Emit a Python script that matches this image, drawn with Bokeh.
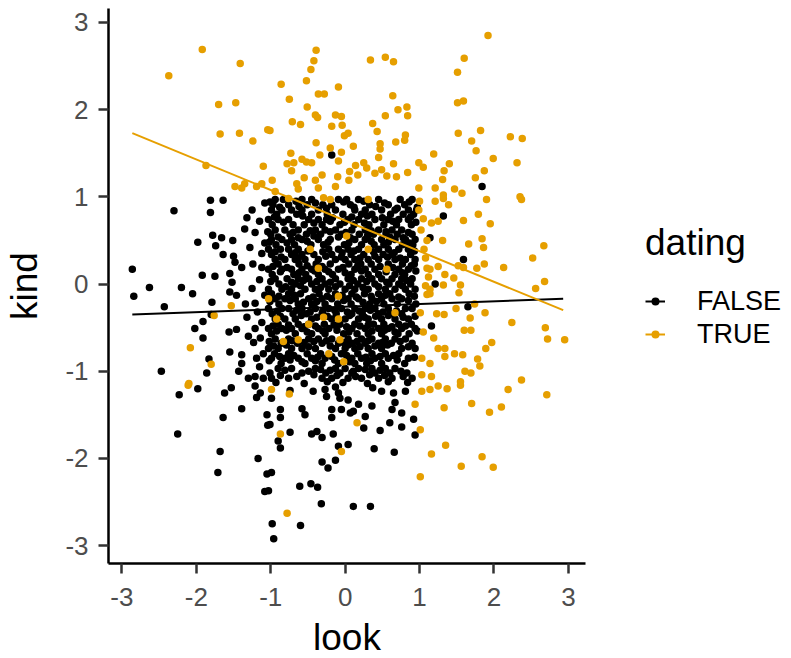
from bokeh.plotting import figure
from bokeh.models import ColumnDataSource, Legend, LegendItem, FixedTicker, Range1d
from bokeh.embed import file_html
from bokeh.resources import INLINE

# ---------------- data ----------------
true_pts = [
    (-1.92,2.69),(-1.41,2.53),(-2.37,2.39),(-1.70,2.06),(-1.47,2.08),(-1.68,1.72),(-1.42,1.73),(-1.24,1.64),
    (-1.04,1.77),(-1.87,1.36),(-1.10,1.35),(-1.35,1.15),(-1.48,1.12),(-1.39,1.10),(-1.19,1.12),(-1.12,1.15),
    (-0.39,2.68),(-0.42,2.56),(-0.46,2.46),(-0.52,2.33),(-0.86,2.29),(-0.09,2.26),(-0.36,2.18),(-0.28,2.18),
    (-0.75,2.12),(0.34,2.57),(0.54,2.60),(0.65,2.55),(0.64,2.16),(0.71,2.00),(0.83,2.03),(0.84,1.93),
    (0.54,1.93),(-0.51,2.03),(-0.40,1.94),(-0.37,1.91),(-0.13,1.94),(-0.05,1.92),(-0.71,1.86),(-0.60,1.83),
    (-0.18,1.81),(-0.04,1.82),(0.37,1.84),(0.43,1.75),(0.04,1.73),(-0.01,1.70),(-1.01,1.76),(-0.39,1.62),
    (0.11,1.58),(0.47,1.61),(0.47,1.55),(0.68,1.63),(0.80,1.65),(0.81,1.71),(-0.73,1.50),(-0.20,1.56),
    (-0.05,1.51),(-0.34,1.48),(0.45,1.45),(-0.78,1.38),(-0.69,1.39),(-0.58,1.43),(-0.52,1.40),(-0.45,1.39),
    (-0.09,1.41),(0.14,1.36),(0.25,1.39),(0.29,1.33),(0.65,1.38),(-0.72,1.30),(0.06,1.29),(0.17,1.25),
    (0.40,1.27),(0.49,1.31),(0.56,1.24),(0.69,1.23),(0.84,1.28),(0.99,1.39),(1.05,1.34),(-0.98,1.19),
    (-0.65,1.15),(-0.55,1.22),(-0.40,1.19),(-0.31,1.25),(-0.10,1.23),(0.05,1.19),(-0.63,1.09),(-0.36,1.10),
    (-0.13,1.12),(0.99,1.10),(-0.94,1.06),
    (1.92,2.85),(1.60,2.59),(1.51,2.43),(1.51,2.08),(1.59,2.10),(1.52,1.73),(1.82,1.76),(1.70,1.64),
    (1.76,1.53),(2.22,1.69),(2.38,1.67),(1.19,1.49),(1.99,1.44),(2.31,1.39),(1.40,1.38),(1.33,1.30),
    (1.87,1.30),(1.31,1.20),(1.75,1.22),(1.21,1.10),(1.47,1.09),(1.57,1.04),(1.32,1.02),(2.35,1.00),
    (1.90,0.97),(2.37,0.97),(1.32,0.98),(1.21,0.95),(1.39,0.91),(1.79,0.80),(1.59,0.73),(1.95,0.69),
    (1.25,0.72),(1.16,0.70),(1.66,0.46),(1.84,0.52),(1.86,0.42),(1.31,0.50),(2.67,0.44),(2.52,0.30),
    (2.13,0.19),(1.87,0.23),(1.77,0.18),(1.52,0.21),(1.59,0.19),(1.25,0.20),(1.34,0.11),(1.46,0.07),
    (1.14,0.17),(1.14,-0.06),(1.14,-0.11),(1.32,-0.01),(1.55,-0.01),(1.53,-0.10),(2.68,0.03),(2.56,-0.05),
    (1.74,-0.23),(1.49,-0.28),(1.23,-0.34),(1.33,-0.35),(1.88,-0.33),(1.68,-0.39),(2.24,-0.44),(1.60,-0.53),
    (1.69,-0.53),(2.69,-0.50),(2.72,-0.63),(2.95,-0.64),(1.97,-0.67),(1.89,-0.74),(1.19,-0.62),(1.25,-0.74),
    (1.34,-0.74),(1.34,-0.83),(1.47,-0.80),(1.58,-0.81),(1.78,-0.86),(1.81,-0.94),(1.61,-1.00),(1.69,-1.02),
    (1.14,-0.91),(1.16,-1.06),(2.37,-1.10),(1.55,-1.12),
    (1.14,-1.21),(1.25,-1.17),(1.37,-1.20),(1.55,-1.16),(2.19,-1.21),(2.71,-1.27),(1.33,-1.42),(1.70,-1.37),
    (1.94,-1.47),(2.10,-1.41),(1.35,-1.85),(1.16,-1.95),(1.56,-2.09),(1.84,-1.98),(1.99,-2.10),
    (-0.99,-1.21),(-0.75,-1.26),(-0.87,-1.72),(0.16,-1.59),(-0.05,-1.92),(-0.78,-2.63),(0.94,-1.38),(1.01,-1.67),
    (1.01,-2.21),(1.03,-1.23),(-2.11,-1.16),
    (-1.53,-0.25),(-1.76,-0.36),(-2.08,-0.73),(-1.80,-0.92),(-2.10,-1.14),
    (-0.76,0.98),(-0.29,0.99),(-0.20,0.97),(0.31,0.97),(0.02,0.55),(-0.47,0.40),(0.31,0.40),(-0.36,0.18),
    (0.56,0.17),(-0.09,-0.14),(0.67,-0.33),(1.01,-0.33),(1.05,-0.55),(-0.92,-0.40),(-0.49,-0.46),(-0.29,-0.38),
    (-0.09,-0.40),(-0.83,-0.66),(-0.63,-0.64),(-0.07,-0.64),(-0.22,-0.80),(-0.02,-0.89),(1.03,-0.85),(1.03,-1.04),
    (-1.03,-0.17),(1.08,0.30),(1.10,0.18),(1.12,0.08),(1.08,-0.02),(1.10,-0.12),(1.06,0.40),(1.10,0.50),
    (0.99,0.85),(1.05,0.75),(1.02,0.62),(1.00,0.95),
]

false_outer = [
    (-0.18,1.48),(1.84,1.12),(1.59,0.28),(1.21,0.00),(1.65,-0.26),(1.16,-0.48),(1.14,0.53),(1.32,0.78),
    (-0.74,-1.22),(-0.99,-1.31),(-0.87,-1.44),(-0.87,-1.53),(-1.01,-1.61),(-0.74,-1.70),(-0.90,-1.80),(-0.87,-1.88),
    (-0.58,-1.43),(-0.54,-1.50),(-0.43,-1.23),(-0.27,-1.21),(-0.25,-1.29),(-0.09,-1.25),(-0.07,-1.31),(0.04,-1.33),
    (-0.13,-1.18),(-0.18,-1.44),(-0.18,-1.53),(-0.05,-1.44),(0.07,-1.48),(0.18,-1.38),(0.11,-1.46),(0.27,-1.52),
    (0.25,-1.65),(0.36,-1.40),(0.47,-1.68),(-0.45,-1.72),(-0.38,-1.69),(-0.31,-1.76),(-0.16,-1.72),(-0.09,-1.86),
    (0.04,-1.84),(0.39,-1.89),(0.66,-1.93),(-0.31,-2.04),(-0.23,-2.11),(-0.13,-2.02),(-0.99,-2.16),(-1.03,-2.37),
    (-0.61,-2.32),(-0.46,-2.29),(-0.37,-2.33),(-0.32,-2.52),(0.11,-2.55),(0.34,-2.55),(-0.98,-2.75),(-0.60,-2.77),
    (-0.96,-2.92),(0.49,-1.23),(0.65,-1.25),(0.67,-1.36),(0.63,-1.44),(0.76,-1.48),(0.60,-1.59),(0.76,-1.64),
    (0.92,-1.55),(0.94,-1.73),(0.81,-1.23),(0.37,-1.19),
    (-2.23,-1.27),(-1.98,-1.20),(-1.62,-1.25),(-1.53,-1.19),(-1.64,-1.53),(-1.39,-1.43),(-1.21,-1.17),(-1.14,-1.25),
    (-1.19,-1.30),(-1.05,-1.50),(-1.04,-1.62),(-2.25,-1.72),(-1.68,-1.92),(-1.17,-2.00),(-1.71,-2.16),(-1.05,-2.18),
    (-1.08,-2.38),
    (-2.30,0.84),(-1.81,0.96),(-1.64,0.96),(-1.81,0.82),(-1.32,0.76),(-1.35,0.63),(-1.21,0.59),(-1.08,0.93),
    (-1.98,0.48),(-1.78,0.56),(-1.66,0.53),(-1.51,0.50),(-1.74,0.44),(-1.64,0.34),(-1.50,0.32),(-1.48,0.25),
    (-1.39,0.19),(-1.24,0.23),(-1.12,0.19),(-1.08,0.47),(-2.86,0.17),(-2.63,-0.04),(-2.84,-0.14),(-2.43,-0.26),
    (-2.20,-0.04),(-2.05,-0.11),(-1.92,0.10),(-1.75,0.09),(-1.55,0.12),(-1.52,0.02),(-1.55,-0.09),(-1.46,-0.13),
    (-1.34,-0.23),(-1.21,-0.22),(-1.08,-0.13),(-1.79,-0.21),(-1.80,-0.35),(-1.91,-0.43),(-2.02,-0.51),(-1.91,-0.62),
    (-1.56,-0.55),(-1.46,-0.52),(-1.55,-0.78),(-1.32,-0.38),(-1.21,-0.51),(-1.12,-0.44),(-1.23,-0.67),(-1.14,-0.62),
    (-1.39,-0.81),(-1.39,-0.91),(-1.19,-0.85),(-1.10,-0.80),(-1.83,-0.86),(-1.86,-1.02),(-2.47,-1.00),(-1.43,-1.00),
    (-1.30,-1.08),(-1.21,-1.06),(-1.10,-1.08),
    (-1.15,0.05),(-1.25,-0.05),(-1.12,0.35),(-1.28,0.42),(-1.18,-0.32),(-1.30,-0.60),(-1.15,-0.95),(-1.25,0.85),
    (-1.15,0.72),
]

false_dense = [
    (-0.94,0.97),(-0.83,0.97),(-0.58,0.97),(-0.45,0.97),(-0.09,0.97),(0.02,0.97),(0.18,0.97),(0.45,0.97),(0.74,0.97),(0.90,0.97),
    (-0.97,0.91),(-0.76,0.91),(-0.51,0.91),(-0.30,0.91),(-0.18,0.91),(0.07,0.91),(0.33,0.91),(0.58,0.91),(0.80,0.91),
    (-0.99,0.85),(-0.85,0.85),(-0.72,0.85),(-0.58,0.85),(-0.36,0.85),(-0.13,0.85),(0.13,0.85),(0.27,0.85),(0.49,0.85),(0.67,0.85),(0.85,0.85),(0.96,0.85),
    (-0.92,0.80),(-0.65,0.80),(-0.45,0.80),(-0.24,0.80),(-0.03,0.80),(0.22,0.80),(0.36,0.80),(0.61,0.80),(0.78,0.80),(0.92,0.80),
    (-1.03,0.74),(-0.90,0.74),(-0.76,0.74),(-0.49,0.74),(-0.36,0.74),(-0.25,0.74),(0.04,0.74),(0.18,0.74),(0.40,0.74),(0.58,0.74),(0.72,0.74),(0.85,0.74),
    (-0.98,0.68),(-0.70,0.68),(-0.55,0.68),(-0.31,0.68),(-0.07,0.68),(0.12,0.68),(0.32,0.68),(0.52,0.68),(0.69,0.68),(0.89,0.68),
    (-0.94,0.62),(-0.81,0.62),(-0.63,0.62),(-0.40,0.62),(-0.27,0.62),(-0.13,0.62),(0.09,0.62),(0.27,0.62),(0.45,0.62),(0.63,0.62),(0.76,0.62),
    (-1.00,0.57),(-0.74,0.57),(-0.52,0.57),(-0.33,0.57),(-0.05,0.57),(0.19,0.57),(0.38,0.57),(0.55,0.57),(0.70,0.57),(0.90,0.57),
    (-0.99,0.51),(-0.85,0.51),(-0.72,0.51),(-0.58,0.51),(-0.36,0.51),(-0.20,0.51),(0.13,0.51),(0.27,0.51),(0.49,0.51),(0.67,0.51),(0.81,0.51),(0.94,0.51),
    (-0.93,0.45),(-0.68,0.45),(-0.46,0.45),(-0.29,0.45),(-0.01,0.45),(0.22,0.45),(0.39,0.45),(0.52,0.45),(0.77,0.45),(0.91,0.45),
    (-1.03,0.40),(-0.87,0.40),(-0.76,0.40),(-0.63,0.40),(-0.22,0.40),(-0.09,0.40),(0.04,0.40),(0.18,0.40),(0.45,0.40),(0.58,0.40),(0.72,0.40),(0.85,0.40),
    (-0.99,0.34),(-0.72,0.34),(-0.58,0.34),(-0.42,0.34),(-0.18,0.34),(0.08,0.34),(0.25,0.34),(0.51,0.34),(0.63,0.34),(0.88,0.34),
    (-0.94,0.28),(-0.81,0.28),(-0.67,0.28),(-0.54,0.28),(-0.36,0.28),(-0.13,0.28),(0.00,0.28),(0.13,0.28),(0.31,0.28),(0.45,0.28),(0.67,0.28),(0.81,0.28),(0.94,0.28),
    (-0.90,0.23),(-0.62,0.23),(-0.39,0.23),(-0.20,0.23),(0.05,0.23),(0.21,0.23),(0.35,0.23),(0.58,0.23),(0.77,0.23),(0.93,0.23),
    (-1.03,0.17),(-0.85,0.17),(-0.72,0.17),(-0.58,0.17),(-0.45,0.17),(-0.27,0.17),(-0.09,0.17),(0.13,0.17),(0.27,0.17),(0.40,0.17),(0.72,0.17),(0.85,0.17),
    (-0.98,0.11),(-0.69,0.11),(-0.53,0.11),(-0.36,0.11),(-0.17,0.11),(0.08,0.11),(0.31,0.11),(0.45,0.11),(0.67,0.11),(0.80,0.11),
    (-0.94,0.06),(-0.78,0.06),(-0.63,0.06),(-0.49,0.06),(-0.31,0.06),(-0.13,0.06),(0.04,0.06),(0.22,0.06),(0.36,0.06),(0.49,0.06),(0.63,0.06),(0.76,0.06),(0.90,0.06),
    (-0.89,0.00),(-0.67,0.00),(-0.45,0.00),(-0.27,0.00),(-0.07,0.00),(0.17,0.00),(0.40,0.00),(0.59,0.00),(0.72,0.00),(0.88,0.00),
    (-1.03,-0.06),(-0.85,-0.06),(-0.72,-0.06),(-0.54,-0.06),(-0.40,-0.06),(-0.22,-0.06),(0.00,-0.06),(0.13,-0.06),(0.31,-0.06),(0.54,-0.06),(0.67,-0.06),(0.81,-0.06),(0.94,-0.06),
    (-0.99,-0.11),(-0.76,-0.11),(-0.60,-0.11),(-0.35,-0.11),(-0.13,-0.11),(0.09,-0.11),(0.26,-0.11),(0.45,-0.11),(0.60,-0.11),(0.86,-0.11),
    (-0.94,-0.17),(-0.81,-0.17),(-0.67,-0.17),(-0.49,-0.17),(-0.31,-0.17),(-0.18,-0.17),(0.04,-0.17),(0.18,-0.17),(0.36,-0.17),(0.49,-0.17),(0.63,-0.17),(0.76,-0.17),
    (-0.89,-0.23),(-0.63,-0.23),(-0.45,-0.23),(-0.27,-0.23),(-0.10,-0.23),(0.08,-0.23),(0.33,-0.23),(0.52,-0.23),(0.70,-0.23),(0.95,-0.23),
    (-1.03,-0.28),(-0.85,-0.28),(-0.76,-0.28),(-0.58,-0.28),(-0.40,-0.28),(-0.22,-0.28),(-0.05,-0.28),(0.13,-0.28),(0.27,-0.28),(0.40,-0.28),(0.58,-0.28),(0.81,-0.28),(0.90,-0.28),
    (-0.98,-0.34),(-0.70,-0.34),(-0.52,-0.34),(-0.31,-0.34),(-0.12,-0.34),(0.09,-0.34),(0.23,-0.34),(0.45,-0.34),(0.61,-0.34),(0.76,-0.34),
    (-0.94,-0.40),(-0.81,-0.40),(-0.67,-0.40),(-0.45,-0.40),(-0.18,-0.40),(0.00,-0.40),(0.18,-0.40),(0.31,-0.40),(0.49,-0.40),(0.67,-0.40),(0.85,-0.40),
    (-0.90,-0.46),(-0.63,-0.46),(-0.49,-0.46),(-0.28,-0.46),(-0.07,-0.46),(0.13,-0.46),(0.38,-0.46),(0.52,-0.46),(0.72,-0.46),(0.89,-0.46),
    (-1.03,-0.51),(-0.85,-0.51),(-0.72,-0.51),(-0.58,-0.51),(-0.36,-0.51),(-0.22,-0.51),(0.09,-0.51),(0.27,-0.51),(0.45,-0.51),(0.58,-0.51),(0.76,-0.51),(0.94,-0.51),
    (-0.99,-0.57),(-0.67,-0.57),(-0.45,-0.57),(-0.27,-0.57),(-0.02,-0.57),(0.16,-0.57),(0.31,-0.57),(0.49,-0.57),(0.71,-0.57),(0.86,-0.57),
    (-0.94,-0.63),(-0.76,-0.63),(-0.49,-0.63),(-0.36,-0.63),(-0.18,-0.63),(0.04,-0.63),(0.22,-0.63),(0.36,-0.63),(0.54,-0.63),(0.67,-0.63),(0.81,-0.63),
    (-0.86,-0.68),(-0.64,-0.68),(-0.31,-0.68),(-0.09,-0.68),(0.09,-0.68),(0.27,-0.68),(0.45,-0.68),(0.62,-0.68),(0.90,-0.68),
    (-1.03,-0.74),(-0.90,-0.74),(-0.72,-0.74),(-0.58,-0.74),(-0.40,-0.74),(-0.13,-0.74),(0.00,-0.74),(0.13,-0.74),(0.31,-0.74),(0.49,-0.74),(0.76,-0.74),(0.94,-0.74),
    (-0.95,-0.80),(-0.76,-0.80),(-0.51,-0.80),(-0.33,-0.80),(-0.05,-0.80),(0.17,-0.80),(0.36,-0.80),(0.54,-0.80),(0.72,-0.80),
    (-0.99,-0.85),(-0.81,-0.85),(-0.63,-0.85),(-0.45,-0.85),(-0.27,-0.85),(0.09,-0.85),(0.22,-0.85),(0.40,-0.85),(0.58,-0.85),(0.85,-0.85),
    (-0.86,-0.91),(-0.54,-0.91),(-0.31,-0.91),(-0.09,-0.91),(0.13,-0.91),(0.29,-0.91),(0.49,-0.91),(0.80,-0.91),
    (-0.90,-0.97),(-0.72,-0.97),(-0.40,-0.97),(-0.13,-0.97),(0.00,-0.97),(0.18,-0.97),(0.36,-0.97),(0.54,-0.97),(0.67,-0.97),
    (-1.01,-1.02),(-0.58,-1.02),(-0.26,-1.02),(-0.07,-1.02),(0.09,-1.02),(0.40,-1.02),(0.60,-1.02),(0.83,-1.02),
    (-0.99,-1.08),(-0.76,-1.08),(-0.31,-1.08),(-0.18,-1.08),(0.04,-1.08),(0.22,-1.08),(0.45,-1.08),(0.63,-1.08),(0.90,-1.08),
]

false_fill = [
    (-1.01,0.94),(-0.66,0.95),(-0.40,0.93),(-0.02,0.94),(0.25,0.95),(0.53,0.93),(0.86,0.94),
    (-0.88,0.88),(-0.62,0.89),(-0.25,0.87),(0.12,0.88),(0.41,0.89),(0.70,0.87),(0.97,0.88),
    (-0.95,0.77),(-0.57,0.78),(-0.17,0.76),(0.09,0.77),(0.30,0.78),(0.50,0.76),(0.88,0.77),
    (-0.83,0.71),(-0.42,0.70),(-0.20,0.72),(-0.01,0.71),(0.26,0.70),(0.64,0.72),(0.95,0.71),
    (-1.04,0.60),(-0.70,0.59),(-0.47,0.61),(-0.20,0.60),(0.01,0.59),(0.35,0.61),(0.55,0.60),(0.85,0.59),
    (-0.90,0.54),(-0.63,0.53),(-0.42,0.55),(-0.09,0.54),(0.07,0.53),(0.30,0.55),(0.60,0.54),(0.78,0.53),
    (-1.02,0.48),(-0.78,0.47),(-0.51,0.49),(-0.23,0.48),(0.05,0.47),(0.35,0.49),(0.58,0.48),(0.86,0.47),
    (-0.94,0.37),(-0.67,0.36),(-0.50,0.38),(-0.30,0.37),(-0.04,0.36),(0.12,0.38),(0.38,0.37),(0.66,0.36),(0.93,0.38),
    (-0.86,0.31),(-0.63,0.30),(-0.26,0.32),(-0.05,0.31),(0.20,0.30),(0.40,0.32),(0.57,0.31),(0.74,0.30),
    (-0.97,0.20),(-0.78,0.19),(-0.51,0.21),(-0.31,0.20),(-0.03,0.19),(0.17,0.21),(0.47,0.20),(0.64,0.19),(0.89,0.21),
    (-0.87,0.14),(-0.62,0.13),(-0.41,0.15),(-0.22,0.14),(0.00,0.13),(0.22,0.15),(0.55,0.14),(0.77,0.13),(0.95,0.15),
    (-1.00,0.03),(-0.72,0.02),(-0.56,0.04),(-0.38,0.03),(-0.20,0.02),(0.11,0.04),(0.29,0.03),(0.56,0.02),(0.83,0.04),
    (-0.80,-0.03),(-0.60,-0.02),(-0.33,-0.04),(-0.13,-0.03),(0.06,-0.02),(0.24,-0.04),(0.45,-0.03),(0.77,-0.02),
    (-0.89,-0.14),(-0.68,-0.13),(-0.43,-0.15),(-0.24,-0.14),(-0.04,-0.13),(0.15,-0.15),(0.35,-0.14),(0.54,-0.13),(0.72,-0.15),(0.93,-0.14),
    (-1.01,-0.20),(-0.74,-0.19),(-0.56,-0.21),(-0.38,-0.20),(-0.02,-0.19),(0.24,-0.21),(0.42,-0.20),(0.85,-0.19),
    (-0.91,-0.31),(-0.65,-0.30),(-0.47,-0.32),(-0.30,-0.31),(-0.14,-0.30),(0.03,-0.32),(0.19,-0.31),(0.34,-0.30),(0.51,-0.32),(0.69,-0.31),
    (-0.87,-0.37),(-0.59,-0.36),(-0.38,-0.38),(-0.24,-0.37),(0.06,-0.36),(0.26,-0.38),(0.41,-0.37),(0.58,-0.36),(0.78,-0.38),(0.94,-0.37),
    (-0.97,-0.48),(-0.76,-0.47),(-0.55,-0.49),(-0.40,-0.48),(-0.15,-0.47),(0.02,-0.49),(0.20,-0.48),(0.31,-0.47),(0.63,-0.49),(0.81,-0.48),
    (-0.92,-0.54),(-0.79,-0.53),(-0.51,-0.55),(-0.30,-0.54),(-0.11,-0.53),(0.05,-0.55),(0.36,-0.54),(0.53,-0.53),(0.67,-0.55),(0.97,-0.54),
    (-1.02,-0.66),(-0.71,-0.65),(-0.55,-0.67),(-0.42,-0.66),(-0.25,-0.65),(-0.02,-0.67),(0.16,-0.66),(0.31,-0.65),(0.50,-0.67),(0.74,-0.66),
    (-0.96,-0.71),(-0.79,-0.70),(-0.49,-0.72),(-0.20,-0.71),(0.04,-0.70),(0.20,-0.72),(0.40,-0.71),(0.57,-0.70),(0.85,-0.72),
    (-0.88,-0.83),(-0.69,-0.82),(-0.37,-0.84),(-0.18,-0.83),(0.02,-0.82),(0.28,-0.84),(0.47,-0.83),(0.65,-0.82),(0.93,-0.84),
    (-1.02,-0.88),(-0.74,-0.87),(-0.58,-0.89),(-0.40,-0.88),(-0.14,-0.87),(0.06,-0.89),(0.34,-0.88),(0.70,-0.87),
    (-0.81,-0.99),(-0.49,-1.00),(-0.33,-0.98),(-0.20,-0.99),(0.11,-1.00),(0.27,-0.98),(0.47,-0.99),(0.75,-1.00),
    (-0.87,-1.05),(-0.65,-1.06),(-0.42,-1.04),(-0.11,-1.05),(0.14,-1.06),(0.33,-1.04),(0.53,-1.05),(0.78,-1.06),
    (-0.93,-1.13),(-0.55,-1.14),(-0.24,-1.12),(-0.03,-1.13),(0.30,-1.14),(0.58,-1.12),(0.84,-1.13),
]

# least-squares lines (end points)
fit_look = [-2.86, 2.93]
fit_kind_true = [1.73, -0.30]
fit_kind_false = [-0.35, -0.17]

tick_values = [-3, -2, -1, 0, 1, 2, 3]
tick_labels = ["-3", "-2", "-1", "0", "1", "2", "3"]
groups = ["FALSE", "TRUE"]
colors = ["#000000", "#E69F00"]

false_all = false_outer + false_dense + false_fill
look_false = [p[0] for p in false_all]
kind_false = [p[1] for p in false_all]
look_true = [p[0] for p in true_pts]
kind_true = [p[1] for p in true_pts]

FONT = "Liberation Sans"

p = figure(frame_width=477, frame_height=555, output_backend="svg", toolbar_location=None,
           x_range=Range1d(-3.18, 3.23), y_range=Range1d(-3.205, 3.16),
           min_border_left=108, min_border_right=0, min_border_top=8, min_border_bottom=0)
p.outline_line_color = None
p.xgrid.visible = False
p.ygrid.visible = False

src_f = ColumnDataSource(dict(x=look_false, y=kind_false))
src_t = ColumnDataSource(dict(x=look_true, y=kind_true))
r_pf = p.scatter("x", "y", source=src_f, size=7.5, color=colors[0], line_color=None)
r_pt = p.scatter("x", "y", source=src_t, size=7.5, color=colors[1], line_color=None)
r_lf = p.line(fit_look, fit_kind_false, line_color=colors[0], line_width=2)
r_lt = p.line(fit_look, fit_kind_true, line_color=colors[1], line_width=2)

for ax, title in ((p.xaxis[0], "look"), (p.yaxis[0], "kind")):
    ax.ticker = FixedTicker(ticks=tick_values)
    ax.major_label_overrides = {v: s for v, s in zip(tick_values, tick_labels)}
    ax.axis_label = title
    ax.axis_label_text_font = FONT
    ax.axis_label_text_font_size = "37px"
    ax.axis_label_text_font_style = "normal"
    ax.axis_label_text_color = "#000000"
    ax.major_label_text_font = FONT
    ax.major_label_text_font_size = "26px"
    ax.major_label_text_color = "#4D4D4D"
    ax.axis_line_color = "#000000"
    ax.axis_line_width = 2.5
    ax.major_tick_line_color = "#333333"
    ax.major_tick_line_width = 2.5
    ax.major_tick_out = 10
    ax.major_tick_in = 0
    ax.minor_tick_out = 0
    ax.minor_tick_in = 0
p.xaxis[0].major_label_standoff = 14
p.xaxis[0].axis_label_standoff = 8
p.yaxis[0].major_label_standoff = 10
p.yaxis[0].axis_label_standoff = 17

legend = Legend(items=[LegendItem(label=groups[0], renderers=[r_lf, r_pf]),
                       LegendItem(label=groups[1], renderers=[r_lt, r_pt])],
                location="center_left")
legend.title = "dating"
legend.title_text_font = FONT
legend.title_text_font_size = "37px"
legend.title_text_font_style = "normal"
legend.title_text_color = "#000000"
legend.title_standoff = 22
legend.label_text_font = FONT
legend.label_text_font_size = "27px"
legend.label_text_color = "#000000"
legend.label_standoff = 32
legend.glyph_width = 20
legend.glyph_height = 30
legend.label_height = 30
legend.spacing = 2
legend.padding = 0
legend.margin = 60
legend.border_line_color = None
legend.background_fill_alpha = 0
p.add_layout(legend, "right")

open("out.html", "w").write(file_html(p, INLINE))
